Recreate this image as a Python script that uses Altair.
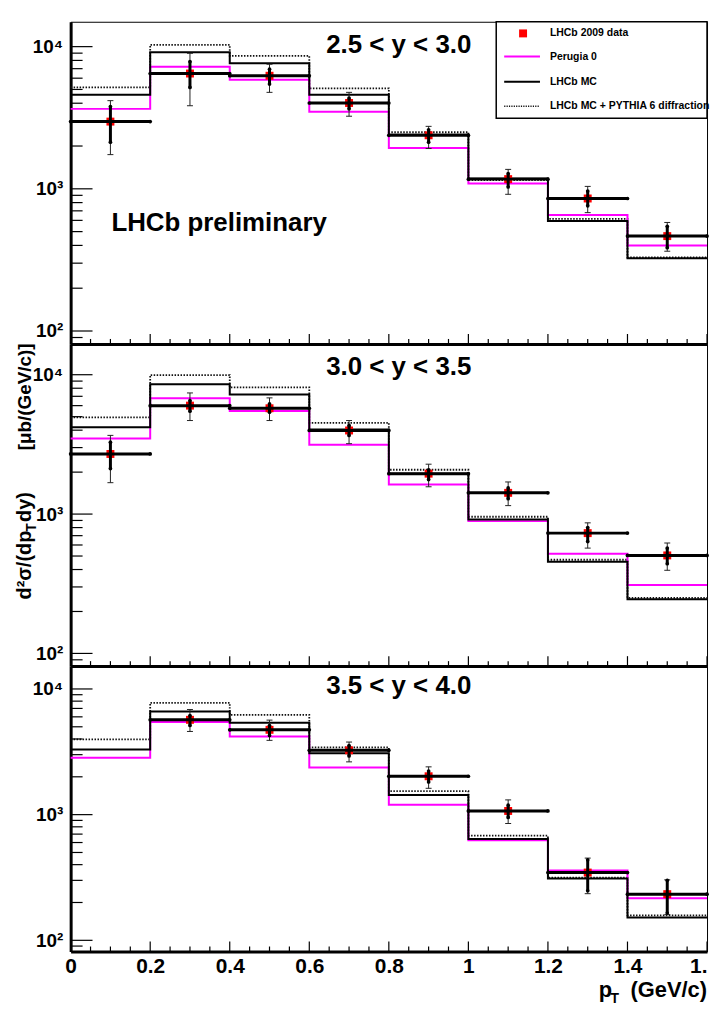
import altair as alt
import pandas as pd

FONT = "Liberation Sans"

# ---------------- data ----------------
PT_EDGES = [0.0, 0.2, 0.4, 0.6, 0.8, 1.0, 1.2, 1.4, 1.6]
PT_CENTERS = [0.1, 0.3, 0.5, 0.7, 0.9, 1.1, 1.3, 1.5]

X_TICK_VALUES = [0.0, 0.2, 0.4, 0.6, 0.8, 1.0, 1.2, 1.4, 1.6]
X_TICK_LABELS = ["0", "0.2", "0.4", "0.6", "0.8", "1", "1.2", "1.4", "1."]
Y_MAJOR = [100, 1000, 10000]
Y_MAJOR_LABELS = ["10²", "10³", "10⁴"]
Y_MINOR = [90, 200, 300, 400, 500, 600, 700, 800, 900,
           2000, 3000, 4000, 5000, 6000, 7000, 8000, 9000]
X_MINOR = [0.05, 0.1, 0.15, 0.25, 0.3, 0.35, 0.45, 0.5, 0.55, 0.65, 0.7, 0.75,
           0.85, 0.9, 0.95, 1.05, 1.1, 1.15, 1.25, 1.3, 1.35, 1.45, 1.5, 1.55]

RAPIDITY_BINS = ["2.5 < y < 3.0", "3.0 < y < 3.5", "3.5 < y < 4.0"]
LEGEND_LABELS = ["LHCb 2009 data", "Perugia 0", "LHCb MC", "LHCb MC + PYTHIA 6 diffraction"]

# panel 1 : 2.5 < y < 3.0
PERUGIA0_1 = [3650, 7210, 5850, 3490, 1940, 1090, 655, 400]
LHCBMC_1 = [4590, 9120, 7640, 4590, 2400, 1180, 595, 325]
DIFFR_1 = [5170, 10280, 8610, 5090, 2500, 1150, 615, 330]
DATA_1 = [2970, 6470, 6240, 4015, 2380, 1170, 855, 465]
STAT_LO_1 = [2130, 5170, 5450, 3650, 2130, 1030, 760, 385]
STAT_HI_1 = [3790, 7850, 6940, 4350, 2600, 1280, 965, 545]
TOT_LO_1 = [1740, 3840, 4770, 3240, 1920, 915, 680, 364]
TOT_HI_1 = [4170, 8980, 7520, 4770, 2750, 1370, 1040, 580]

# panel 2 : 3.0 < y < 3.5
PERUGIA0_2 = [3480, 6770, 5500, 3150, 1630, 890, 520, 310]
LHCBMC_2 = [4200, 8530, 7200, 4050, 1950, 915, 455, 245]
DIFFR_2 = [4950, 9950, 8120, 4520, 2080, 957, 470, 250]
DATA_2 = [2700, 6000, 5745, 3980, 1950, 1420, 730, 505]
STAT_LO_2 = [2120, 5470, 5380, 3670, 1770, 1290, 635, 440]
STAT_HI_2 = [3280, 6520, 6170, 4330, 2080, 1540, 800, 570]
TOT_LO_2 = [1680, 4690, 4690, 3200, 1570, 1150, 570, 395]
TOT_HI_2 = [3670, 7400, 6820, 4690, 2280, 1700, 865, 620]

# panel 3 : 3.5 < y < 4.0
PERUGIA0_3 = [2830, 5450, 4190, 2370, 1200, 625, 359, 216]
LHCBMC_3 = [3300, 6610, 5380, 3076, 1430, 640, 310, 152]
DIFFR_3 = [3970, 7750, 6220, 3430, 1540, 680, 316, 158]
DATA_3 = [None, 5680, 4730, 3250, 2020, 1070, 346, 233]
STAT_LO_3 = [None, 5120, 4270, 2930, 1820, 950, 248, 165]
STAT_HI_3 = [None, 6150, 5120, 3550, 2220, 1190, 437, 300]
TOT_LO_3 = [None, 4590, 3900, 2630, 1620, 850, 235, 160]
TOT_HI_3 = [None, 6860, 5650, 3780, 2400, 1310, 451, 303]

Y_DOMAINS = [[81.1, 14960], [81.1, 16630], [81.5, 15200]]
PANEL_HEIGHTS = [324, 324, 287]
WIDTH = 640

DUMMY = pd.DataFrame({"d": [0]})


def label_expr(values, labels):
    expr = "''"
    for v, l in reversed(list(zip(values, labels))):
        expr = f"abs(datum.value - {v}) < 1e-6 ? '{l}' : ({expr})"
    return expr


def step_df(values):
    return pd.DataFrame({"pt": PT_EDGES, "v": list(values) + [values[-1]]})


def data_df(vals, slo, shi, tlo, thi):
    rows = []
    for i, c in enumerate(PT_CENTERS):
        if vals[i] is None:
            continue
        rows.append(dict(pt=c, lo=PT_EDGES[i], hi=PT_EDGES[i + 1], v=vals[i],
                         slo=slo[i], shi=shi[i], tlo=tlo[i], thi=thi[i]))
    return pd.DataFrame(rows)


def text_at(txt, x, y, size, align="left", angle=0, baseline="alphabetic"):
    kw = dict(text=txt, align=align, baseline=baseline, font=FONT, fontSize=size,
              fontWeight="bold", color="black")
    if angle:
        kw["angle"] = angle
    return alt.Chart(DUMMY).mark_text(**kw).encode(x=alt.value(x), y=alt.value(y))


def make_panel(k, series, bottom):
    perugia, mc, diffr, data, slo, shi, tlo, thi = series
    height = PANEL_HEIGHTS[k]
    ydom = Y_DOMAINS[k]
    xs = alt.Scale(domain=[0, 1.6], nice=False, zero=False)
    ys = alt.Scale(type="log", domain=ydom, nice=False)
    xaxis = alt.Axis(values=X_TICK_VALUES, labelExpr=label_expr(X_TICK_VALUES, X_TICK_LABELS),
                     labels=bottom, ticks=False, tickSize=0, grid=False,
                     domainColor="black", domainWidth=3, labelFont=FONT, labelFontSize=21,
                     labelFontWeight="bold", labelColor="black", labelPadding=4,
                     labelAlign={"condition": {"test": "datum.value > 1.55", "value": "right"},
                                 "value": "center"},
                     labelFlush=False, labelOverlap=False, title=None)
    yaxis = alt.Axis(values=Y_MAJOR, labelExpr=label_expr(Y_MAJOR, Y_MAJOR_LABELS),
                     ticks=False, tickSize=0, grid=False, domainColor="black", domainWidth=3,
                     labelFont=FONT, labelFontSize=19, labelFontWeight="bold",
                     labelColor="black", labelPadding=8, labelOverlap=False,
                     labelFlush=False, title=None)

    X = lambda f: alt.X(f, type="quantitative", scale=xs, axis=xaxis, title=None)
    Y = lambda f: alt.Y(f, type="quantitative", scale=ys, axis=yaxis, title=None)

    layers = []
    # histograms
    layers.append(alt.Chart(step_df(diffr)).mark_line(
        interpolate="step-after", color="#111", strokeWidth=1.8, strokeDash=[1.5, 1.5]
    ).encode(x=X("pt"), y=Y("v")))
    layers.append(alt.Chart(step_df(perugia)).mark_line(
        interpolate="step-after", color="#ff00ff", strokeWidth=2
    ).encode(x=X("pt"), y=Y("v")))
    layers.append(alt.Chart(step_df(mc)).mark_line(
        interpolate="step-after", color="black", strokeWidth=2
    ).encode(x=X("pt"), y=Y("v")))

    # inward ticks
    ymaj = pd.DataFrame({"t": [t for t in Y_MAJOR if ydom[0] <= t <= ydom[1]]})
    ymin = pd.DataFrame({"t": [t for t in Y_MINOR if ydom[0] <= t <= ydom[1]]})
    layers.append(alt.Chart(ymaj).mark_rule(color="black", strokeWidth=1.2).encode(
        y=Y("t"), x=alt.value(0), x2=alt.value(22)))
    layers.append(alt.Chart(ymin).mark_rule(color="black", strokeWidth=1.2).encode(
        y=Y("t"), x=alt.value(0), x2=alt.value(12)))
    xmaj = pd.DataFrame({"t": X_TICK_VALUES})
    xmin = pd.DataFrame({"t": X_MINOR})
    layers.append(alt.Chart(xmaj).mark_rule(color="black", strokeWidth=1.2).encode(
        x=X("t"), y=alt.value(height), y2=alt.value(height - 10)))
    layers.append(alt.Chart(xmin).mark_rule(color="black", strokeWidth=1.2).encode(
        x=X("t"), y=alt.value(height), y2=alt.value(height - 5)))

    # data points
    dd = data_df(data, slo, shi, tlo, thi)
    base = alt.Chart(dd)
    layers.append(base.mark_square(size=64, color="#ff0000", opacity=1).encode(
        x=X("pt"), y=Y("v")))
    layers.append(base.mark_rule(color="#222", strokeWidth=1).encode(
        x=X("pt"), y=Y("tlo"), y2=alt.Y2("thi")))
    for f in ["tlo", "thi"]:
        layers.append(base.mark_point(shape="M -1 0 L 1 0", size=36, filled=False,
                                      color="#222", strokeWidth=1, opacity=1).encode(
            x=X("pt"), y=Y(f)))
    layers.append(base.mark_rule(color="black", strokeWidth=3).encode(
        x=X("pt"), y=Y("slo"), y2=alt.Y2("shi")))
    layers.append(base.mark_rule(color="black", strokeWidth=3).encode(
        x=X("lo"), x2=alt.X2("hi"), y=Y("v")))
    for fx, fy in [("pt", "slo"), ("pt", "shi"), ("lo", "v"), ("hi", "v")]:
        layers.append(base.mark_circle(size=14, color="black", opacity=1).encode(
            x=X(fx), y=Y(fy)))

    # rapidity label
    layers.append(text_at(RAPIDITY_BINS[k], 257, 31 if k < 2 else 28, 26))

    if k == 0:
        layers.append(text_at("LHCb preliminary", 41, 210, 26))
        # legend
        layers.append(alt.Chart(DUMMY).mark_rect(fill="white", stroke="black", strokeWidth=1.5).encode(
            x=alt.value(428), x2=alt.value(WIDTH), y=alt.value(0), y2=alt.value(97)))
        layers.append(alt.Chart(DUMMY).mark_square(size=64, color="#ff0000", opacity=1).encode(
            x=alt.value(455), y=alt.value(11.7)))
        layers.append(alt.Chart(DUMMY).mark_rule(color="#ff00ff", strokeWidth=2).encode(
            x=alt.value(436), x2=alt.value(472), y=alt.value(35)))
        layers.append(alt.Chart(DUMMY).mark_rule(color="black", strokeWidth=2).encode(
            x=alt.value(436), x2=alt.value(472), y=alt.value(60.3)))
        layers.append(alt.Chart(DUMMY).mark_rule(color="#111", strokeWidth=1.5, strokeDash=[1.2, 1.2]).encode(
            x=alt.value(436), x2=alt.value(472), y=alt.value(85)))
        for lab, yy in zip(LEGEND_LABELS, [11.7, 35, 60.3, 85]):
            layers.append(text_at(lab, 482, yy, 10.5, baseline="middle"))

    if k == 1:
        # y title (rotated) with subscript T
        layers.append(text_at("d²σ/(dp", -40, 257, 20, angle=270))
        layers.append(text_at("T", -35, 189, 14, angle=270))
        layers.append(text_at("dy)", -40, 179, 20, angle=270))
        layers.append(text_at("[μb/(GeV/c)]", -40, 107, 19, angle=270))
        # invisible left bound
        layers.append(alt.Chart(DUMMY).mark_rule(strokeOpacity=0, strokeWidth=1).encode(
            x=alt.value(-62.5), y=alt.value(0), y2=alt.value(10)))

    if k == 2:
        layers.append(text_at("p", 531, 333, 22))
        layers.append(text_at("T", 543, 339, 14))
        layers.append(text_at("(GeV/c)", WIDTH, 333, 22, align="right"))

    return alt.layer(*layers).properties(width=WIDTH, height=height)


p1 = make_panel(0, (PERUGIA0_1, LHCBMC_1, DIFFR_1, DATA_1, STAT_LO_1, STAT_HI_1, TOT_LO_1, TOT_HI_1), False)
p2 = make_panel(1, (PERUGIA0_2, LHCBMC_2, DIFFR_2, DATA_2, STAT_LO_2, STAT_HI_2, TOT_LO_2, TOT_HI_2), False)
p3 = make_panel(2, (PERUGIA0_3, LHCBMC_3, DIFFR_3, DATA_3, STAT_LO_3, STAT_HI_3, TOT_LO_3, TOT_HI_3), True)

chart = alt.vconcat(p1, p2, p3, spacing=0, bounds="flush").properties(
    padding={"top": 9, "left": 0, "right": 0, "bottom": 0}
).configure_view(stroke="black", strokeWidth=1)

chart.save("out.html", embed_options={"renderer": "svg", "actions": False})
